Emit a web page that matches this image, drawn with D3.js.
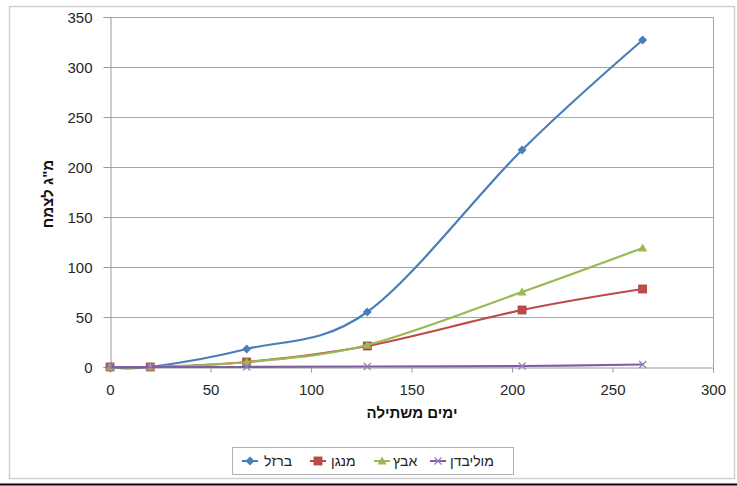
<!DOCTYPE html>
<html><head><meta charset="utf-8">
<script src="https://cdn.jsdelivr.net/npm/d3@7"></script>
<style>
body{margin:0;background:#fff;}
svg{display:block;font-family:"Liberation Sans",Arial,sans-serif;}
</style></head>
<body>
<svg id="c" width="737" height="486"></svg>
<script>
const days = [0, 20, 68, 128, 205, 265];
const seriesNames = ["ברזל", "מנגן", "אבץ", "מוליבדן"];
const iron = [0, 0, 18, 55, 217, 327];
const manganese = [0, 0, 5, 21, 57, 78];
const zinc = [0, 0, 5, 22, 75, 119];
const molybdenum = [0, 0, 0, 0.5, 1, 2.5];
const xTicks = [0, 50, 100, 150, 200, 250, 300];
const yTicks = [0, 50, 100, 150, 200, 250, 300, 350];
const xTitle = "ימים משתילה";
const yTitle = "מ\"ג לצמח";

const colors = ["#4a7ebb", "#be4b48", "#98b954", "#7d60a0"];
const shapes = ["diamond", "square", "triangle", "x"];
const allValues = [iron, manganese, zinc, molybdenum];

const svg = d3.select("#c");
// outer chart border
svg.append("rect").attr("x", 9.5).attr("y", 6.5).attr("width", 725).attr("height", 472)
  .attr("fill", "#fff").attr("stroke", "#d0d0d0").attr("stroke-width", 1.5);
svg.append("line").attr("x1", 0).attr("x2", 737).attr("y1", 484.5).attr("y2", 484.5)
  .attr("stroke", "#000").attr("stroke-width", 2);

const x = d3.scaleLinear().domain([0, 300]).range([110, 713]);
const y = d3.scaleLinear().domain([0, 350]).range([367, 17]);

const g = svg.append("g");
// gridlines
g.selectAll(".grid").data(yTicks.slice(1)).join("line")
  .attr("x1", x(0)).attr("x2", x(300))
  .attr("y1", d => Math.round(y(d)) + 0.5).attr("y2", d => Math.round(y(d)) + 0.5)
  .attr("stroke", "#a6a6a6").attr("stroke-width", 1);
// right border of plot area
g.append("line").attr("x1", x(300) + 0.5).attr("x2", x(300) + 0.5).attr("y1", y(350)).attr("y2", y(0))
  .attr("stroke", "#a6a6a6");

// axes
const yAxis = d3.axisLeft(y).tickValues(yTicks).tickSize(7).tickPadding(11);
const ya = svg.append("g").attr("transform", `translate(${x(0) + 0.5},0)`).call(yAxis);
const xAxis = d3.axisBottom(x).tickValues(xTicks).tickSize(5).tickPadding(12);
const xa = svg.append("g").attr("transform", `translate(0,${y(0) + 0.5})`).call(xAxis);
[ya, xa].forEach(a => {
  a.select(".domain").attr("stroke", "#9a9a9a");
  a.selectAll(".tick line").attr("stroke", "#9a9a9a");
  a.selectAll(".tick text").attr("fill", "#262626").style("font-size", "15px")
   .style("font-family", "'Liberation Sans',Arial,sans-serif");
});
ya.selectAll(".tick text").attr("dy", "0.35em");

// titles
svg.append("text").attr("x", 412).attr("y", 418).attr("text-anchor", "middle")
  .style("font-size", "15px").style("font-weight", "bold").attr("fill", "#111").text(xTitle);
svg.append("text").attr("transform", "translate(53,194) rotate(-90)").attr("text-anchor", "middle")
  .style("font-size", "15px").style("font-weight", "bold").attr("fill", "#111").text(yTitle);

const line = d3.line().x(d => x(d[0])).y(d => y(d[1])).curve(d3.curveCatmullRom.alpha(0));

function marker(sel, shape, color, cx, cy) {
  if (shape === "diamond") {
    sel.append("path").attr("d", `M${cx},${cy-4.5}L${cx+4.5},${cy}L${cx},${cy+4.5}L${cx-4.5},${cy}Z`).attr("fill", color);
  } else if (shape === "square") {
    sel.append("rect").attr("x", cx - 4).attr("y", cy - 4).attr("width", 8).attr("height", 8)
      .attr("fill", color).attr("stroke", d3.color(color).darker(0.3)).attr("stroke-width", 0.8);
  } else if (shape === "triangle") {
    sel.append("path").attr("d", `M${cx},${cy-4.5}L${cx+4.5},${cy+3.5}L${cx-4.5},${cy+3.5}Z`).attr("fill", color);
  } else {
    sel.append("path").attr("d", `M${cx-3.5},${cy-3.5}L${cx+3.5},${cy+3.5}M${cx-3.5},${cy+3.5}L${cx+3.5},${cy-3.5}`)
      .attr("stroke", d3.color(color).brighter(0.6)).attr("stroke-width", 1.2).attr("fill", "none");
  }
}

// draw series (molybdenum first so it sits behind? Excel draws in order)
allValues.forEach((vals, i) => {
  const pts = days.map((d, k) => [d, vals[k]]);
  const sg = svg.append("g");
  sg.append("path").attr("d", line(pts)).attr("fill", "none").attr("stroke", colors[i])
    .attr("stroke-width", 2.2).attr("stroke-linejoin", "round");
  pts.forEach(p => marker(sg, shapes[i], colors[i], x(p[0]), y(p[1])));
});

// legend
const lg = svg.append("g");
lg.append("rect").attr("x", 232.5).attr("y", 447.5).attr("width", 281).attr("height", 27)
  .attr("fill", "#fff").attr("stroke", "#b0b0b0");
const legendMarkerX = [250, 318, 382, 438];
const legendTextX = [264, 331, 393, 450];
seriesNames.forEach((n, i) => {
  lg.append("line").attr("x1", legendMarkerX[i] - 8).attr("x2", legendMarkerX[i] + 8)
    .attr("y1", 461).attr("y2", 461).attr("stroke", colors[i]).attr("stroke-width", 2);
  marker(lg, shapes[i], colors[i], legendMarkerX[i], 461);
  lg.append("text").attr("x", legendTextX[i]).attr("y", 466).attr("text-anchor", "start")
    .style("font-size", "14px").attr("fill", "#222").text(n);
});
</script>
</body></html>
